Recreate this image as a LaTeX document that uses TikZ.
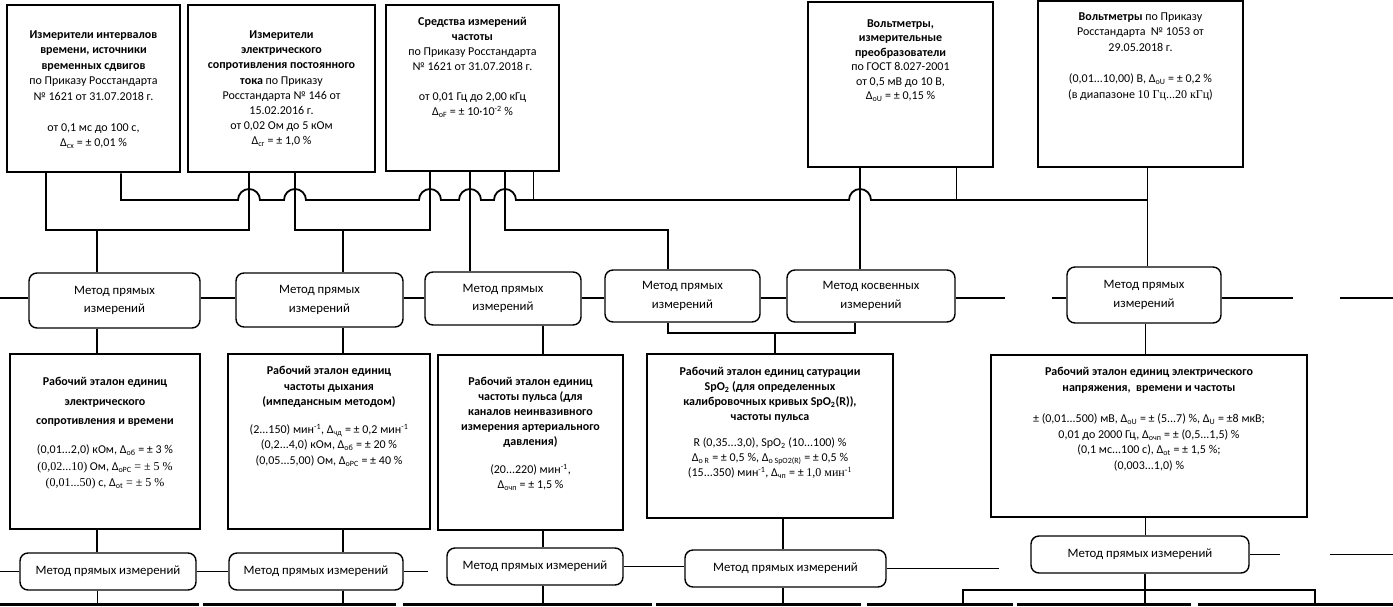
\documentclass[tikz,border=0pt]{standalone}
\usepackage{fontspec}
\setmainfont{Carlito}
\newfontfamily\tnr{Liberation Serif}
\newcommand{\dsb}[1]{\textsubscript{#1}}
\newcommand{\dsp}[1]{\textsuperscript{#1}}
\begin{document}
\begin{tikzpicture}[x=1pt,y=-1pt,
  bigbox/.style={draw, line width=2.6pt, inner sep=0pt},
  mbox/.style={draw, line width=1.4pt, rounded corners=8pt, inner sep=0pt, align=center, font=\fontsize{12.8}{18.5}\selectfont},
  txt/.style={inner sep=0pt, align=center, anchor=north, font=\fontsize{12}{15.5}\selectfont},
  conn/.style={line width=1.8pt},
  thinc/.style={line width=1pt},
  edgeline/.style={line width=3pt}
]
\useasboundingbox (0,0) rectangle (1393,606);
% top boxes
\node[bigbox, minimum width=173pt, minimum height=167pt] (b1) at (93.5,88.5) {};
\node[bigbox, minimum width=187pt, minimum height=167pt] (b2) at (281.5,88.5) {};
\node[bigbox, minimum width=173pt, minimum height=166pt] (b3) at (472.5,88) {};
\node[bigbox, minimum width=185pt, minimum height=165pt] (b4) at (900.5,84.5) {};
\node[bigbox, minimum width=205pt, minimum height=166pt] (b5) at (1140.5,84) {};
\node[txt] (t1) at (93.5,30.5) {\textbf{Измерители интервалов}\\ \textbf{времени, источники}\\ \textbf{временных сдвигов}\\ по Приказу Росстандарта\\ № 1621 от 31.07.2018 г.\\[15.5pt] от 0,1 мс до 100 с,\\ Δ\dsb{сх} = ± 0,01 \%};
\node[txt, font=\fontsize{12}{15.2}\selectfont] (t2) at (281.5,30.5) {\textbf{Измерители}\\ \textbf{электрического}\\ \textbf{сопротивления постоянного}\\ \textbf{тока} по Приказу\\ Росстандарта № 146 от\\ 15.02.2016 г.\\ от 0,02 Ом до 5 кОм\\ Δ\dsb{сг} = ± 1,0 \%};
\node[txt, font=\fontsize{12}{15}\selectfont] (t3) at (472.5,17.5) {\textbf{Средства измерений}\\ \textbf{частоты}\\ по Приказу Росстандарта\\ № 1621 от 31.07.2018 г.\\[15pt] от 0,01 Гц до 2,00 кГц\\ Δ\dsb{оF} = ± 10·10\dsp{-2} \%};
\node[txt, font=\fontsize{12}{14.5}\selectfont] (t4) at (900.5,19.5) {\textbf{Вольтметры,}\\ \textbf{измерительные}\\ \textbf{преобразователи}\\ по ГОСТ 8.027-2001\\ от 0,5 мВ до 10 В,\\ Δ\dsb{оU} = ± 0,15 \%};
\node[txt] (t5) at (1140.5,12.5) {\textbf{Вольтметры} по Приказу\\ Росстандарта \ № 1053 от\\ 29.05.2018 г.\\[16pt] (0,01...10,00) В, Δ\dsb{оU} = ± 0,2 \%\\ (в диапазоне {\tnr 10 Гц...20 кГц})};
% method row
\node[mbox, minimum width=171pt, minimum height=55pt] (m1) at (114.5,300.5) {Метод прямых\\измерений};
\node[mbox, minimum width=167pt, minimum height=54pt] (m2) at (319.5,300) {Метод прямых\\измерений};
\node[mbox, minimum width=156pt, minimum height=53pt] (m3) at (503,298.5) {Метод прямых\\измерений};
\node[mbox, minimum width=155pt, minimum height=52pt] (m4) at (682.5,296) {Метод прямых\\измерений};
\node[mbox, minimum width=168pt, minimum height=52pt] (m5) at (871,296) {Метод косвенных\\измерений};
\node[mbox, minimum width=154pt, minimum height=56pt] (m6) at (1144,295) {Метод прямых\\измерений};
% lower boxes
\node[bigbox, minimum width=190pt, minimum height=175pt] (lb1) at (105,441.5) {};
\node[bigbox, minimum width=202pt, minimum height=175pt] (lb2) at (329,441.5) {};
\node[bigbox, minimum width=185pt, minimum height=175pt] (lb3) at (530.5,442.5) {};
\node[bigbox, minimum width=246pt, minimum height=164pt] (lb4) at (770,436) {};
\node[bigbox, minimum width=316pt, minimum height=162pt] (lb5) at (1149,436) {};
\node[txt] (lt1) at (105,377.5) {\textbf{Рабочий эталон единиц}\\[4pt] \textbf{электрического}\\[4pt] \textbf{сопротивления и времени}\\[13.5pt] (0,01...2,0) кОм, Δ\dsb{об} = ± 3 \%\\[1pt] {\tnr (0,02...10)} Ом, Δ\dsb{оРС} {\tnr = ± 5 \%}\\[1pt] {\tnr (0,01...50)} с, Δ\dsb{оt} {\tnr = ± 5 \%}};
\node[txt] (lt2) at (329,366.5) {\textbf{Рабочий эталон единиц}\\ \textbf{частоты дыхания}\\ \textbf{(импедансным методом)}\\[12pt] (2...150) мин\dsp{-1}, Δ\dsb{чд} = ± 0,2 мин\dsp{-1}\\ (0,2...4,0) кОм, Δ\dsb{об} = ± 20 \%\\ (0,05...5,00) Ом, Δ\dsb{оРС} = ± 40 \%};
\node[txt, font=\fontsize{12}{15}\selectfont] (lt3) at (530.5,377.5) {\textbf{Рабочий эталон единиц}\\ \textbf{частоты пульса (для}\\ \textbf{каналов неинвазивного}\\ \textbf{измерения артериального}\\ \textbf{давления)}\\[13pt] (20...220) мин\dsp{-1},\\ Δ\dsb{очп} = ± 1,5 \%};
\node[txt, font=\fontsize{12}{15}\selectfont] (lt4) at (770,367.5) {\textbf{Рабочий эталон единиц сатурации}\\ \textbf{SpO\dsb{2} (для определенных}\\ \textbf{калибровочных кривых SpO\dsb{2}(R)),}\\ \textbf{частоты пульса}\\[11pt] R (0,35...3,0), SpO\dsb{2} (10...100) \%\\ Δ\dsb{о R} = ± 0,5 \%, Δ\dsb{о SpO2(R)} = ± 0,5 \%\\ (15...350) мин\dsp{-1}, Δ\dsb{чп} = ± {\tnr 1,0 мин\dsp{-1}}};
\node[txt] (lt5) at (1149,367.5) {\textbf{Рабочий эталон единиц электрического}\\ \textbf{напряжения, \ времени и частоты}\\[16pt] ± (0,01...500) мВ, Δ\dsb{оU} = ± (5...7) \%, Δ\dsb{U} = ±8 мкВ;\\ 0,01 до 2000 Гц, Δ\dsb{очп} = ± (0,5...1,5) \%\\ (0,1 мс...100 с), Δ\dsb{оt} = ± 1,5 \%;\\ (0,003...1,0) \%};
% bottom method row
\node[mbox, minimum width=176pt, minimum height=37pt] (bm1) at (108,571.5) {Метод прямых измерений};
\node[mbox, minimum width=174pt, minimum height=37pt] (bm2) at (316,571.5) {Метод прямых измерений};
\node[mbox, minimum width=176pt, minimum height=37pt] (bm3) at (535,566.5) {Метод прямых измерений};
\node[mbox, minimum width=201pt, minimum height=37pt] (bm4) at (785.5,568.5) {Метод прямых измерений};
\node[mbox, minimum width=218pt, minimum height=37pt] (bm5) at (1140,554.5) {Метод прямых измерений};
% helper coordinates
\coordinate (j1) at (46,230);
\coordinate (j2) at (249,230);
\coordinate (j3) at (97,230);
\coordinate (j4) at (295,230);
\coordinate (j5) at (430,230);
\coordinate (j6) at (343,230);
\coordinate (j7) at (505,230);
\coordinate (j8) at (668,230);
\coordinate (j9) at (533,200);
\coordinate (j10) at (956,200);
\coordinate (j11) at (121,200);
\coordinate (x470) at (470,0);
\coordinate (x860) at (860,0);
\coordinate (x1147) at (1147,0);
% top connectors
\draw[conn] (j1 |- b1.south) -- (j1) -- (j2) -- (j2 |- b2.south);
\draw[conn] (j3) -- (j3 |- m1.north);
\draw[conn] (j4 |- b2.south) -- (j4) -- (j5) -- (j5 |- b3.south);
\draw[conn] (j6) -- (j6 |- m2.north);
\draw[conn] (x470 |- b3.south) -- (x470 |- m3.north);
\draw[conn] (j7 |- b3.south) -- (j7) -- (j8) -- (j8 |- m4.north);
\draw[thinc] (j9 |- b3.south) -- (j9);
\draw[conn] (x860 |- b4.south) -- (x860 |- m5.north);
\draw[thinc] (j10 |- b4.south) -- (j10);
\draw[thinc] (x1147 |- b5.south) -- (x1147 |- m6.north);
% bus with hops
\draw[conn] (j11 |- b1.south) -- (j11) -- (238,200) arc[start angle=180,end angle=0,radius=11pt]
  -- (284,200) arc[start angle=180,end angle=0,radius=11pt]
  -- (419,200) arc[start angle=180,end angle=0,radius=11pt]
  -- (459,200) arc[start angle=180,end angle=0,radius=11pt]
  -- (494,200) arc[start angle=180,end angle=0,radius=11pt]
  -- (849,200) arc[start angle=180,end angle=0,radius=11pt]
  -- (x1147 |- j11);
% middle horizontal line
\coordinate (h1) at (0,298);
\draw[conn] (h1) -- (h1 -| m1.west);
\draw[conn] (h1 -| m1.east) -- (h1 -| m2.west);
\draw[conn] (h1 -| m2.east) -- (h1 -| m3.west);
\draw[conn] (h1 -| m3.east) -- (h1 -| m4.west);
\draw[conn] (h1 -| m4.east) -- (h1 -| m5.west);
\draw[conn] (h1 -| m5.east) -- (1005,298);
\draw[conn] (1052,298) -- (h1 -| m6.west);
\draw[conn] (h1 -| m6.east) -- (1293,298);
\draw[conn] (1340,298) -- (1393,298);
% method to lower boxes
\coordinate (k1) at (668,333);
\coordinate (k2) at (855,333);
\coordinate (k3) at (775,333);
\draw[conn] (j3 |- m1.south) -- (j3 |- lb1.north);
\draw[conn] (j6 |- m2.south) -- (j6 |- lb2.north);
\coordinate (x543) at (543,0);
\draw[conn] (x543 |- m3.south) -- (x543 |- lb3.north);
\draw[conn] (k1 |- m4.south) -- (k1) -- (k2) -- (k2 |- m5.south);
\draw[conn] (k3) -- (k3 |- lb4.north);
\coordinate (x1145) at (1145,0);
\draw[thinc] (x1145 |- m6.south) -- (x1145 |- lb5.north);
% lower boxes to bottom method row
\coordinate (x783) at (783,0);
\draw[conn] (j3 |- lb1.south) -- (j3 |- bm1.north);
\draw[conn] (j6 |- lb2.south) -- (j6 |- bm2.north);
\draw[conn] (x543 |- lb3.south) -- (x543 |- bm3.north);
\draw[conn] (x783 |- lb4.south) -- (x783 |- bm4.north);
\draw[thinc] (x1145 |- lb5.south) -- (x1145 |- bm5.north);
% bottom horizontal lines
\draw[conn] (0,571.5) -- (bm1.west);
\draw[conn] (bm1.east) -- (bm2.west);
\draw[conn] (bm2.east) -- (428,571.5);
\draw[conn] (bm3.east) -- (bm3.east -| bm4.west);
\draw[conn] (bm4.east) -- (999,568.5);
\draw[conn] (bm5.east) -- (1280,554.5);
\draw[conn] (1330,554.5) -- (1393,554.5);
% bottom drops
\coordinate (yb) at (0,603);
\draw[thinc] (j3 |- bm1.south) -- (j3 |- yb);
\draw[conn] (j6 |- bm2.south) -- (j6 |- yb);
\draw[conn] (x543 |- bm3.south) -- (x543 |- yb);
\draw[conn] (x783 |- bm4.south) -- (x783 |- yb);
\coordinate (q1) at (963,590);
\coordinate (q2) at (1315,590);
\draw[conn] (x1145 |- bm5.south) -- (x1145 |- yb);
\draw[conn] (q1 |- yb) -- (q1) -- (q2) -- (q2 |- yb);
% cut tops of next row
\draw[edgeline] (0,604.5) -- (199,604.5);
\draw[edgeline] (203,604.5) -- (396,604.5);
\draw[edgeline] (403,604.5) -- (652,604.5);
\draw[edgeline] (656,604.5) -- (861,604.5);
\draw[edgeline] (867,604.5) -- (1013,604.5);
\draw[edgeline] (1017,604.5) -- (1191,604.5);
\draw[edgeline] (1198,604.5) -- (1393,604.5);
\end{tikzpicture}
\end{document}
